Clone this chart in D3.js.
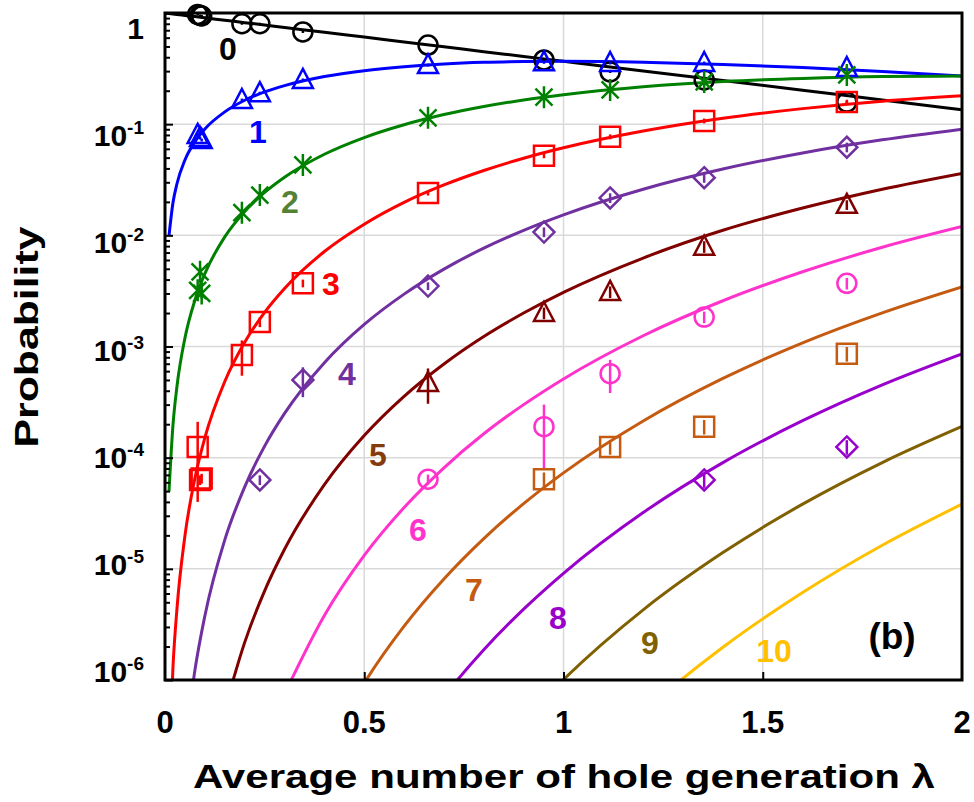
<!DOCTYPE html>
<html>
<head>
<meta charset="utf-8">
<script src="https://cdn.jsdelivr.net/npm/d3@7"></script>
<style>
    body { margin: 0; background: #fff; }
    svg { display: block; font-family: "Liberation Sans", Arial, sans-serif; font-weight: bold; }
</style>
</head>
<body>
<div id="chart"></div>
<script>
const N = null;
const lambdaGrid = [0, 0.01, 0.02, 0.03, 0.05, 0.075, 0.1, 0.15, 0.2, 0.25, 0.3, 0.4, 0.5, 0.6, 0.7, 0.8, 0.9, 1.0, 1.2, 1.4, 1.6, 1.8, 2.0];
const curve0 = [1, 0.990, 0.980, 0.970, 0.951, 0.928, 0.905, 0.861, 0.819, 0.779, 0.741, 0.670, 0.607, 0.549, 0.497, 0.449, 0.407, 0.368, 0.301, 0.247, 0.202, 0.165, 0.135];
const curve1 = [N, 0.0099, 0.0196, 0.0291, 0.0476, 0.0696, 0.0905, 0.129, 0.164, 0.195, 0.222, 0.268, 0.303, 0.329, 0.348, 0.360, 0.366, 0.368, 0.361, 0.345, 0.323, 0.298, 0.271];
const curve2 = [N, 4.95e-5, 1.96e-4, 4.37e-4, 1.19e-3, 2.61e-3, 4.52e-3, 9.68e-3, 0.0164, 0.0243, 0.0333, 0.0536, 0.0758, 0.0988, 0.122, 0.144, 0.165, 0.184, 0.217, 0.242, 0.258, 0.268, 0.271];
const curve3 = [N, 1.65e-7, 1.31e-6, 4.37e-6, 1.98e-5, 6.52e-5, 1.51e-4, 4.84e-4, 1.09e-3, 2.03e-3, 3.33e-3, 7.15e-3, 0.0126, 0.0198, 0.0284, 0.0383, 0.0494, 0.0613, 0.0867, 0.113, 0.138, 0.161, 0.180];
const curve4 = [N, N, N, N, 2.48e-7, 1.22e-6, 3.77e-6, 1.82e-5, 5.46e-5, 1.27e-4, 2.50e-4, 7.15e-4, 1.58e-3, 2.96e-3, 4.97e-3, 7.67e-3, 0.0111, 0.0153, 0.0260, 0.0395, 0.0551, 0.0723, 0.0902];
const curve5 = [N, N, N, N, N, N, N, 5.45e-7, 2.18e-6, 6.34e-6, 1.50e-5, 5.72e-5, 1.58e-4, 3.56e-4, 6.96e-4, 1.23e-3, 2.00e-3, 3.07e-3, 6.25e-3, 0.0111, 0.0176, 0.0260, 0.0361];
const curve6 = [N, N, N, N, N, N, N, N, N, N, 7.50e-7, 3.81e-6, 1.32e-5, 3.56e-5, 8.11e-5, 1.64e-4, 3.00e-4, 5.11e-4, 1.25e-3, 2.58e-3, 4.70e-3, 7.81e-3, 0.0120];
const curve7 = [N, N, N, N, N, N, N, N, N, N, N, 2.18e-7, 9.40e-7, 3.05e-6, 8.11e-6, 1.87e-5, 3.86e-5, 7.30e-5, 2.14e-4, 5.16e-4, 1.08e-3, 2.01e-3, 3.44e-3];
const curve8 = [N, N, N, N, N, N, N, N, N, N, N, N, N, 2.29e-7, 7.10e-7, 1.87e-6, 4.34e-6, 9.12e-6, 3.21e-5, 9.03e-5, 2.15e-4, 4.52e-4, 8.59e-4];
const curve9 = [N, N, N, N, N, N, N, N, N, N, N, N, N, N, N, 1.66e-7, 4.34e-7, 1.01e-6, 4.28e-6, 1.40e-5, 3.82e-5, 9.04e-5, 1.91e-4];
const curve10 = [N, N, N, N, N, N, N, N, N, N, N, N, N, N, N, N, N, 1.01e-7, 5.14e-7, 1.97e-6, 6.12e-6, 1.63e-5, 3.82e-5];

// Measured points (shared lambda columns)
const markerLambda = [0.082, 0.088, 0.092, 0.193, 0.238, 0.346, 0.66, 0.951, 1.117, 1.353, 1.711];
const meas0 = [0.97, 0.95, 0.94, 0.80, 0.80, 0.675, 0.515, 0.378, 0.295, 0.25, 0.158];
const meas1 = [0.08, 0.075, 0.072, 0.165, 0.19, 0.25, 0.34, 0.36, 0.355, 0.355, 0.32];
const meas2 = [0.0032, 0.0047, 0.0030, 0.016, 0.023, 0.043, 0.114, 0.175, 0.203, 0.24, 0.277];
const meas3 = [1.25e-4, 6.3e-5, 6.5e-5, 8.4e-4, 1.66e-3, 3.7e-3, 0.024, 0.052, 0.077, 0.107, 0.158];
const meas4 = [N, N, N, N, 6.3e-5, 5.0e-4, 3.5e-3, 0.0107, 0.0217, 0.033, 0.062];
const meas5 = [N, N, N, N, N, N, 4.7e-4, 2.0e-3, 3.1e-3, 7.9e-3, 0.0188];
const meas6 = [N, N, N, N, N, N, 6.4e-5, 1.9e-4, 5.7e-4, 1.84e-3, 3.7e-3];
const meas7 = [N, N, N, N, N, N, N, 6.4e-5, 1.25e-4, 1.9e-4, 8.6e-4];
const meas8 = [N, N, N, N, N, N, N, N, N, 6.3e-5, 1.25e-4];

// Relative errors of the measured points
const err0 = [0.02, 0.02, 0.02, 0.02, 0.02, 0.02, 0.02, 0.02, 0.02, 0.02, 0.02];
const err1 = [0.03, 0.03, 0.03, 0.03, 0.03, 0.03, 0.03, 0.03, 0.03, 0.03, 0.03];
const err2 = [0.1, 0.1, 0.1, 0.05, 0.05, 0.05, 0.03, 0.03, 0.03, 0.03, 0.03];
const err3 = [0.68, 0.1, 0.1, 0.35, 0.1, 0.08, 0.05, 0.05, 0.05, 0.05, 0.05];
const err4 = [N, N, N, N, 0.1, 0.3, 0.08, 0.1, 0.1, 0.1, 0.1];
const err5 = [N, N, N, N, N, N, 0.35, 0.12, 0.12, 0.12, 0.1];
const err6 = [N, N, N, N, N, N, 0.1, 0.58, 0.33, 0.12, 0.12];
const err7 = [N, N, N, N, N, N, N, 0.15, 0.15, 0.15, 0.15];
const err8 = [N, N, N, N, N, N, N, N, N, 0.15, 0.15];

const curveColors = ['#000000', '#0000ff', '#008000', '#ff0000', '#7030a0', '#800000', '#ff33cc', '#c55a11', '#9900cc', '#806000', '#ffc000'];
const labelColors = ['#000000', '#0000ff', '#548235', '#ff0000', '#7030a0', '#843c0c', '#ff33cc', '#c55a11', '#9900cc', '#806000', '#ffc000'];
const markerShapes = ['circle', 'triangle', 'asterisk', 'square', 'diamond', 'triangle', 'circle', 'square', 'diamond'];
const curveLabels = ['0', '1', '2', '3', '4', '5', '6', '7', '8', '9', '10'];
const labelX = [228, 258, 290, 331, 347, 378, 418, 474, 558, 650, 774];
const labelY = [48, 131, 201, 283, 373, 454, 529, 589, 617, 642, 650];

const xTicks = [0, 0.5, 1, 1.5, 2];
const yDecades = [1, 1e-1, 1e-2, 1e-3, 1e-4, 1e-5, 1e-6];

const curves = [curve0, curve1, curve2, curve3, curve4, curve5, curve6, curve7, curve8, curve9, curve10];
const measured = [meas0, meas1, meas2, meas3, meas4, meas5, meas6, meas7, meas8];
const errors = [err0, err1, err2, err3, err4, err5, err6, err7, err8];

const width = 974, height = 802;
const plot = { left: 165, right: 962, top: 13, bottom: 680 };

const svg = d3.select('#chart').append('svg')
    .attr('width', width)
    .attr('height', height);

const x = d3.scaleLinear().domain([0, 2]).range([plot.left, plot.right]);
const y = d3.scaleLog().domain([1e-6, 1]).range([plot.bottom, plot.top]);

svg.append('defs').append('clipPath').attr('id', 'clip')
    .append('rect')
    .attr('x', plot.left).attr('y', plot.top)
    .attr('width', plot.right - plot.left).attr('height', plot.bottom - plot.top);

// Grid
const grid = svg.append('g').attr('stroke', '#d9d9d9').attr('stroke-width', 1.5);
grid.selectAll('.gx').data([0.5, 1, 1.5]).join('line')
    .attr('x1', d => x(d)).attr('x2', d => x(d))
    .attr('y1', plot.top).attr('y2', plot.bottom);
grid.selectAll('.gy').data(yDecades.slice(1, -1)).join('line')
    .attr('x1', plot.left).attr('x2', plot.right)
    .attr('y1', d => y(d)).attr('y2', d => y(d));

// Model curves
const line = d3.line()
    .defined(d => d[1] != null)
    .x(d => x(d[0]))
    .y(d => y(d[1]))
    .curve(d3.curveMonotoneX);

svg.append('g').attr('clip-path', 'url(#clip)')
    .selectAll('path')
    .data(curves.map((c, i) => ({ i, pts: lambdaGrid.map((l, k) => [l, c[k]]).filter(p => p[1] != null) })))
    .join('path')
    .attr('d', d => line(d.pts))
    .attr('fill', 'none')
    .attr('stroke', d => curveColors[d.i])
    .attr('stroke-width', 3);

// Axes ticks (inward)
const minorTicks = [];
for (let e = -6; e < 0; e++) {
    for (let m = 2; m <= 9; m++) minorTicks.push(m * Math.pow(10, e));
}
const yMajor = svg.append('g').attr('transform', `translate(${plot.left},0)`)
    .call(d3.axisRight(y).tickValues(yDecades).tickSize(8).tickFormat(''));
const yMinor = svg.append('g').attr('transform', `translate(${plot.left},0)`)
    .call(d3.axisRight(y).tickValues(minorTicks).tickSize(5).tickFormat(''));
const xMajor = svg.append('g').attr('transform', `translate(0,${plot.bottom})`)
    .call(d3.axisTop(x).tickValues([0.5, 1, 1.5]).tickSize(8).tickFormat(''));
[yMajor, yMinor, xMajor].forEach(g => {
    g.select('.domain').remove();
    g.selectAll('line').attr('stroke', '#000').attr('stroke-width', 2);
});

// Frame
svg.append('rect')
    .attr('x', plot.left).attr('y', plot.top)
    .attr('width', plot.right - plot.left).attr('height', plot.bottom - plot.top)
    .attr('fill', 'none').attr('stroke', '#000').attr('stroke-width', 3);

// Marker shapes
const shapePaths = {
    circle: 'M-9.5,0a9.5,9.5 0 1,0 19,0a9.5,9.5 0 1,0 -19,0',
    triangle: 'M0,-11L10,8L-10,8Z',
    square: 'M-10,-10H10V10H-10Z',
    diamond: 'M0,-10.5L10.5,0L0,10.5L-10.5,0Z',
    asterisk: 'M0,-11V11M-8.5,-8.5L8.5,8.5M-8.5,8.5L8.5,-8.5'
};

measured.forEach((vals, i) => {
    const pts = markerLambda.map((l, k) => ({ l, v: vals[k], e: errors[i][k] })).filter(p => p.v != null);
    const g = svg.append('g');
    // error bars
    g.selectAll('.err').data(pts).join('line')
        .attr('x1', d => x(d.l)).attr('x2', d => x(d.l))
        .attr('y1', d => y(d.v * (1 + d.e)))
        .attr('y2', d => d.e < 1 ? y(d.v * (1 - d.e)) : plot.bottom)
        .attr('stroke', curveColors[i]).attr('stroke-width', 2.5);
    g.selectAll('.mk').data(pts).join('path')
        .attr('transform', d => `translate(${x(d.l)},${y(d.v)})`)
        .attr('d', shapePaths[markerShapes[i]])
        .attr('fill', 'none')
        .attr('stroke', curveColors[i])
        .attr('stroke-width', 2.5);
});

// Tick labels
svg.append('g').selectAll('text').data(xTicks).join('text')
    .attr('x', d => x(d)).attr('y', 733)
    .attr('text-anchor', 'middle')
    .attr('font-size', 31)
    .text(d => d);

const yLabels = svg.append('g').selectAll('text').data(yDecades).join('text')
    .attr('x', 144)
    .attr('y', d => 15.5 + 0.964 * y(d) + 11)
    .attr('text-anchor', 'end')
    .attr('font-size', 30);
yLabels.each(function(d) {
    const t = d3.select(this);
    const p = Math.round(Math.log10(d));
    if (p === 0) { t.text('1'); return; }
    t.append('tspan').text('10');
    t.append('tspan').attr('dy', -12).attr('font-size', 19).text(p);
});

// Curve labels
svg.append('g').selectAll('text').data(curveLabels).join('text')
    .attr('x', (d, i) => labelX[i]).attr('y', (d, i) => labelY[i])
    .attr('dy', '0.36em')
    .attr('text-anchor', 'middle')
    .attr('font-size', 32)
    .attr('fill', (d, i) => labelColors[i])
    .text(d => d);

svg.append('text')
    .attr('x', 892).attr('y', 636).attr('dy', '0.36em')
    .attr('text-anchor', 'middle')
    .attr('font-size', 37)
    .text('(b)');

// Axis titles
svg.append('text')
    .attr('x', 564).attr('y', 788)
    .attr('text-anchor', 'middle')
    .attr('font-size', 34)
    .attr('textLength', 742).attr('lengthAdjust', 'spacingAndGlyphs')
    .text('Average number of hole generation λ');

svg.append('text')
    .attr('transform', 'translate(38,337) rotate(-90)')
    .attr('text-anchor', 'middle')
    .attr('font-size', 34)
    .attr('textLength', 221).attr('lengthAdjust', 'spacingAndGlyphs')
    .text('Probability');
</script>
</body>
</html>
